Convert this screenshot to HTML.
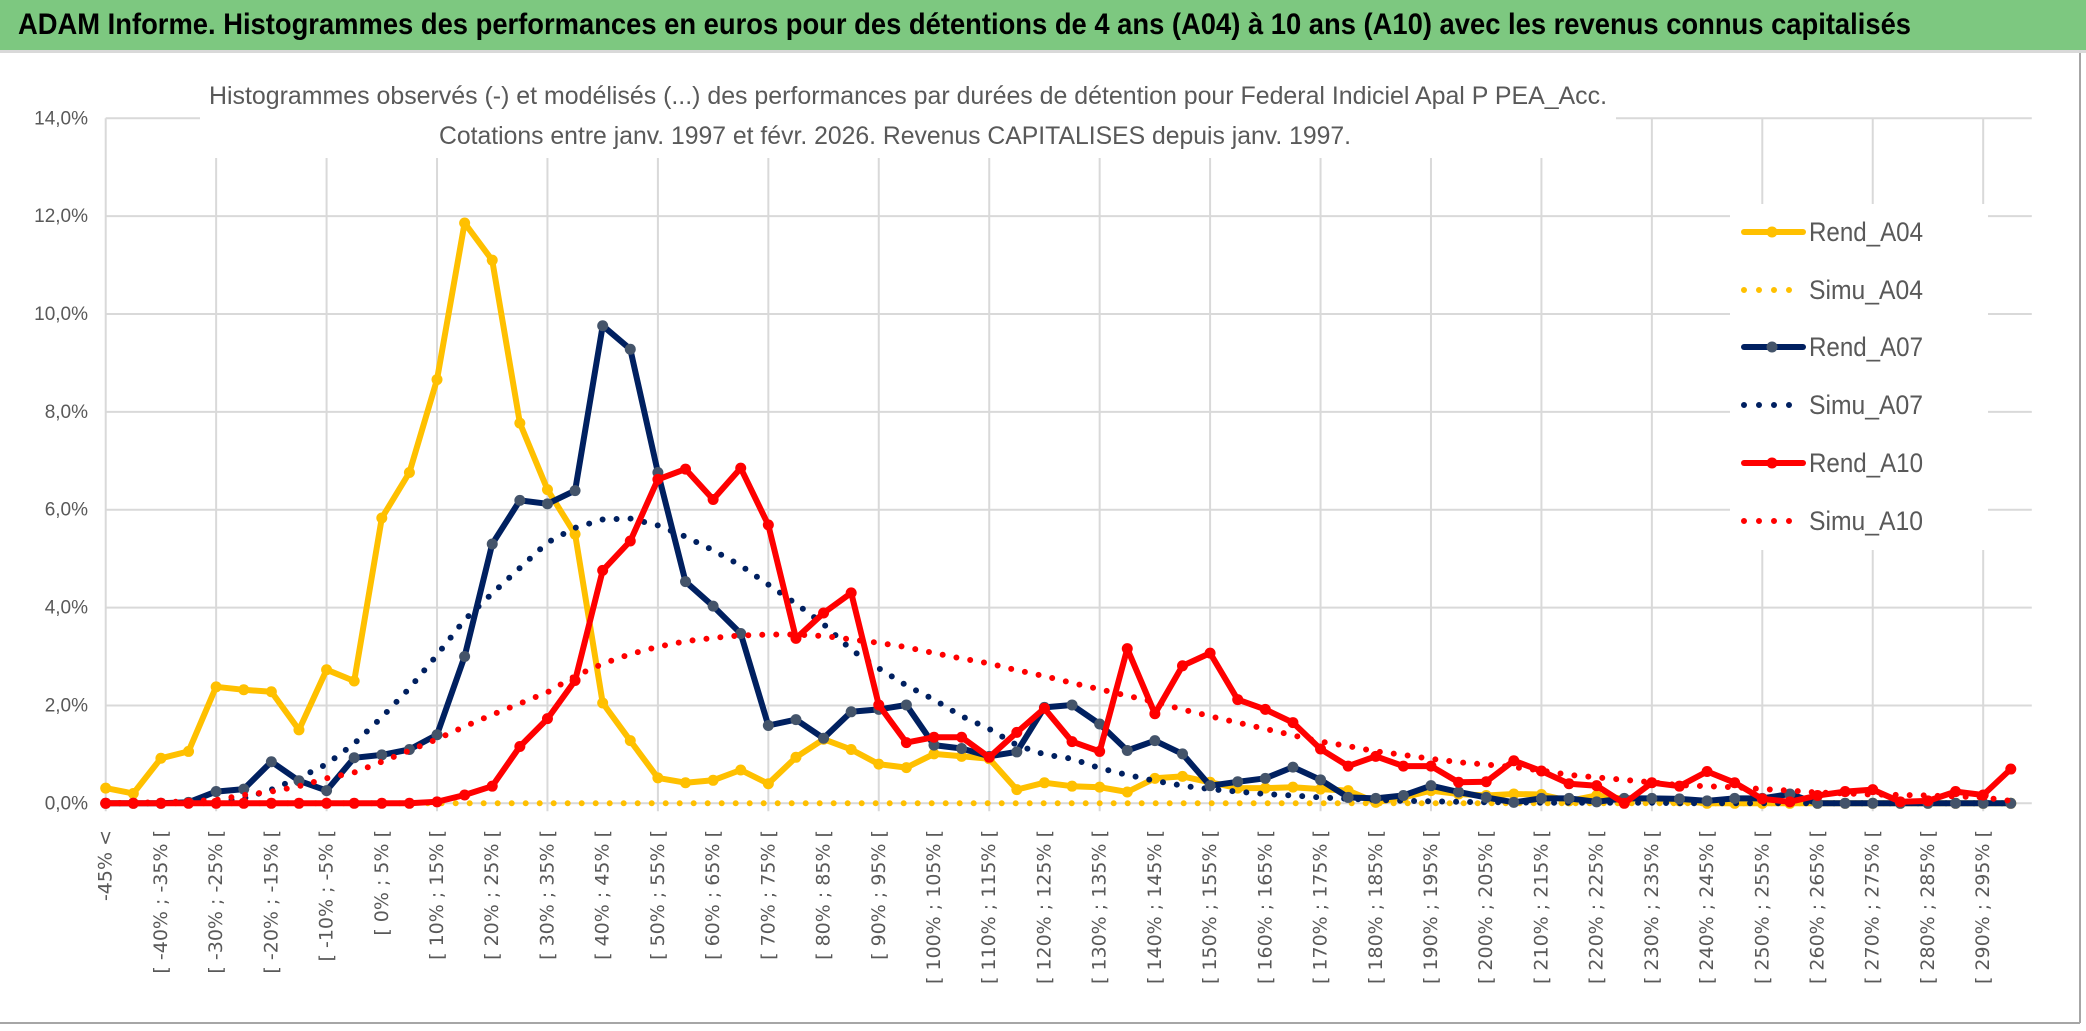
<!DOCTYPE html>
<html><head><meta charset="utf-8">
<style>
html,body{margin:0;padding:0;background:#fff;}
svg{display:block;}
</style></head>
<body>
<svg id="chart" width="2086" height="1031" viewBox="0 0 2086 1031" xmlns="http://www.w3.org/2000/svg">
  <rect x="0" y="0" width="2086" height="1031" fill="#ffffff"/>
  <rect x="0" y="0" width="2086" height="50" fill="#7DC880"/>
  <rect x="0" y="50" width="2086" height="3" fill="#D9D9D9"/>
  <text x="18" y="34" font-family="'Liberation Sans Narrow','Liberation Sans',sans-serif" font-weight="bold" font-size="30" fill="#000" textLength="1893" lengthAdjust="spacingAndGlyphs">ADAM Informe. Histogrammes des performances en euros pour des détentions de 4 ans (A04) à 10 ans (A10) avec les revenus connus capitalisés</text>
  <line x1="2080" y1="53" x2="2080" y2="1023" stroke="#A6A6A6" stroke-width="2"/>
  <line x1="0" y1="1023" x2="2080" y2="1023" stroke="#A6A6A6" stroke-width="2"/>
  <g id="grid"></g>
  <g id="yaxis"></g>
  <g id="xaxis"></g>
  <rect x="200" y="72" width="1416" height="86" fill="#fff"/>
  <text x="908" y="104" text-anchor="middle" font-family="'Liberation Sans Narrow','Liberation Sans',sans-serif" font-size="25" fill="#595959" textLength="1398" lengthAdjust="spacingAndGlyphs">Histogrammes observés (-) et modélisés (...) des performances par durées de détention pour Federal Indiciel Apal P PEA_Acc.</text>
  <text x="895" y="144" text-anchor="middle" font-family="'Liberation Sans Narrow','Liberation Sans',sans-serif" font-size="25" fill="#595959" textLength="912" lengthAdjust="spacingAndGlyphs">Cotations entre janv. 1997 et févr. 2026. Revenus CAPITALISES depuis janv. 1997.</text>
  <g id="series"></g>
  <g id="legend"></g>
</svg>
<script>
const tickLabels = ["-45% <","[ -40% ; -35% [","[ -30% ; -25% [","[ -20% ; -15% [","[ -10% ; -5% [","[ 0% ; 5% [","[ 10% ; 15% [","[ 20% ; 25% [","[ 30% ; 35% [","[ 40% ; 45% [","[ 50% ; 55% [","[ 60% ; 65% [","[ 70% ; 75% [","[ 80% ; 85% [","[ 90% ; 95% [","[ 100% ; 105% [","[ 110% ; 115% [","[ 120% ; 125% [","[ 130% ; 135% [","[ 140% ; 145% [","[ 150% ; 155% [","[ 160% ; 165% [","[ 170% ; 175% [","[ 180% ; 185% [","[ 190% ; 195% [","[ 200% ; 205% [","[ 210% ; 215% [","[ 220% ; 225% [","[ 230% ; 235% [","[ 240% ; 245% [","[ 250% ; 255% [","[ 260% ; 265% [","[ 270% ; 275% [","[ 280% ; 285% [","[ 290% ; 295% ["];
const yTicks = [0,2,4,6,8,10,12,14];
const yTickLabels = ["0,0%","2,0%","4,0%","6,0%","8,0%","10,0%","12,0%","14,0%"];
const rendA04 = [0.31,0.20,0.92,1.06,2.38,2.32,2.28,1.50,2.73,2.50,5.83,6.76,8.66,11.86,11.10,7.77,6.41,5.50,2.05,1.28,0.52,0.42,0.47,0.68,0.40,0.94,1.31,1.10,0.80,0.73,1.01,0.96,0.91,0.28,0.42,0.35,0.33,0.23,0.51,0.55,0.43,0.31,0.31,0.33,0.29,0.26,0.02,0.12,0.26,0.19,0.16,0.19,0.18,0.05,0.16,0.09,0.09,0.05,0,0,0,0,0,0,0,0,0,0,0,0];
const simuA04 = [0,0,0,0,0,0,0,0,0,0,0,0,0,0,0,0,0,0,0,0,0,0,0,0,0,0,0,0,0,0,0,0,0,0,0,0,0,0,0,0,0,0,0,0,0,0,0,0,0,0,0,0,0,0,0,0,0,0,0,0,0,0,0,0,0,0,0,0,0,0];
const rendA07 = [0,0,0,0.02,0.24,0.29,0.85,0.46,0.26,0.93,0.99,1.10,1.40,3.00,5.30,6.19,6.12,6.39,9.76,9.28,6.76,4.53,4.03,3.47,1.59,1.71,1.33,1.87,1.92,2.01,1.19,1.12,0.96,1.05,1.96,2.01,1.62,1.08,1.28,1.01,0.36,0.44,0.51,0.74,0.48,0.12,0.10,0.16,0.36,0.23,0.12,0.02,0.10,0.10,0.03,0.10,0.10,0.09,0.05,0.10,0.10,0.19,0,0,0,0,0,0,0,0];
const simuA07 = [0,0,0,0.01,0.03,0.10,0.28,0.52,0.80,1.22,1.76,2.35,3.03,3.75,4.29,4.81,5.33,5.63,5.80,5.82,5.68,5.45,5.17,4.86,4.47,4.08,3.66,3.14,2.76,2.41,2.12,1.78,1.52,1.19,1.00,0.91,0.72,0.58,0.46,0.36,0.29,0.24,0.19,0.16,0.12,0.09,0.07,0.05,0.04,0.03,0.02,0.02,0.01,0.01,0.01,0.01,0.01,0,0,0,0,0,0,0,0,0,0,0,0,0];
const rendA10 = [0,0,0,0,0,0,0,0,0,0,0,0,0.03,0.17,0.35,1.16,1.73,2.51,4.76,5.36,6.62,6.83,6.21,6.85,5.69,3.37,3.89,4.30,2.01,1.24,1.35,1.35,0.94,1.45,1.94,1.26,1.06,3.16,1.83,2.81,3.07,2.12,1.92,1.65,1.11,0.76,0.96,0.76,0.76,0.43,0.44,0.87,0.66,0.40,0.36,0,0.42,0.35,0.65,0.42,0.09,0.03,0.16,0.24,0.28,0.03,0.05,0.24,0.17,0.70];
const simuA10 = [0,0.01,0.02,0.04,0.07,0.17,0.24,0.35,0.51,0.63,0.85,1.08,1.31,1.57,1.81,2.04,2.27,2.60,2.85,3.05,3.20,3.31,3.38,3.43,3.45,3.45,3.42,3.35,3.28,3.19,3.07,2.96,2.86,2.72,2.60,2.46,2.33,2.20,2.07,1.92,1.78,1.65,1.52,1.39,1.26,1.17,1.06,0.99,0.91,0.84,0.79,0.74,0.67,0.58,0.53,0.48,0.43,0.37,0.35,0.33,0.29,0.26,0.22,0.20,0.18,0.17,0.16,0.14,0.12,0.05];

const NS = "http://www.w3.org/2000/svg";
const X0 = 105.7, DX = 27.61, Y0 = 803.3, PX_PER_PCT = 48.93;
const nCat = rendA04.length;
function xScale(i){ return X0 + i*DX; }
function yScale(v){ return Y0 - v*PX_PER_PCT; }
function mk(tag, attrs, parent){
  const el = document.createElementNS(NS, tag);
  for (const k in attrs) el.setAttribute(k, attrs[k]);
  parent.appendChild(el);
  return el;
}
const grid = document.getElementById('grid');
const yaxis = document.getElementById('yaxis');
const xaxis = document.getElementById('xaxis');
const series = document.getElementById('series');
const legend = document.getElementById('legend');
const plotRight = xScale(nCat - 1) + 21;

yTicks.forEach((t, k) => {
  const ln = mk('line', {x1: X0, x2: plotRight, y1: yScale(t), y2: yScale(t), stroke: '#D9D9D9', 'stroke-width': 2}, grid);
  
  
  const tx = mk('text', {x: 88, y: yScale(t) + 6, 'text-anchor': 'end', 'font-family': "'Liberation Sans Narrow','Liberation Sans',sans-serif", 'font-size': 19, fill: '#595959'}, yaxis);
  tx.textContent = yTickLabels[k];
  
  
});
for (let i = 0; i < nCat; i += 4) {
  const ln = mk('line', {x1: xScale(i), x2: xScale(i), y1: yScale(14), y2: Y0 + 8, stroke: '#D9D9D9', 'stroke-width': 2}, grid);
  
  
}
tickLabels.forEach((lab, k) => {
  const x = xScale(k*2), y = 830;
  const tx = mk('text', {x: x, y: y, transform: 'rotate(-90 ' + x + ' ' + y + ')', 'text-anchor': 'end', 'dominant-baseline': 'central', 'font-family': "'DejaVu Sans',sans-serif", 'font-size': 19, fill: '#595959'}, xaxis);
  tx.textContent = lab;
  
  
});

function pathFor(vals){ return vals.map((v,i) => (i ? 'L' : 'M') + xScale(i).toFixed(1) + ',' + yScale(v).toFixed(1)).join(' '); }
function drawDotted(vals, color, name){
  const p = mk('path', {d: pathFor(vals), fill: 'none', stroke: color, 'stroke-width': 6, 'stroke-linecap': 'round', 'stroke-dasharray': '0 14'}, series);
  
  
}
function drawSolid(vals, color, mcolor, name){
  const g = mk('g', {}, series);
  
  
  const p = mk('path', {d: pathFor(vals), fill: 'none', stroke: color, 'stroke-width': 6, 'stroke-linejoin': 'round'}, g);
  
  
  vals.forEach((v,i) => {
    const c = mk('circle', {cx: xScale(i), cy: yScale(v), r: 5.5, fill: mcolor}, g);
    
    
  });
}
drawDotted(simuA04, '#FFC000', 'simu-a04-series');
drawSolid(rendA04, '#FFC000', '#FFC000', 'rend-a04-series');
drawDotted(simuA07, '#002060', 'simu-a07-series');
drawSolid(rendA07, '#002060', '#44546A', 'rend-a07-series');
drawDotted(simuA10, '#FF0000', 'simu-a10-series');
drawSolid(rendA10, '#FF0000', '#FF0000', 'rend-a10-series');

const lbg = mk('rect', {x: 1730, y: 204, width: 258, height: 346, fill: '#fff'}, legend);


const legendNames = ['Rend_A04','Simu_A04','Rend_A07','Simu_A07','Rend_A10','Simu_A10'];
const legendColors = ['#FFC000','#FFC000','#002060','#002060','#FF0000','#FF0000'];
const legendMarker = ['#FFC000', null, '#44546A', null, '#FF0000', null];
const legendY = [232, 290, 347, 405, 463, 521];
legendNames.forEach((nm, k) => {
  const g = mk('g', {}, legend);
  
  
  const y = legendY[k];
  if (legendMarker[k]) {
    mk('line', {x1: 1744, x2: 1803, y1: y, y2: y, stroke: legendColors[k], 'stroke-width': 6, 'stroke-linecap': 'round'}, g);
    mk('circle', {cx: 1772, cy: y, r: 5.5, fill: legendMarker[k]}, g);
  } else {
    mk('line', {x1: 1744, x2: 1800, y1: y, y2: y, stroke: legendColors[k], 'stroke-width': 6, 'stroke-linecap': 'round', 'stroke-dasharray': '0 15'}, g);
  }
  const t = mk('text', {x: 1809, y: y + 9, 'font-family': "'Liberation Sans Narrow','Liberation Sans',sans-serif", 'font-size': 27, fill: '#595959', textLength: 114, lengthAdjust: 'spacingAndGlyphs'}, g);
  t.textContent = nm;
});
</script>
</body></html>
